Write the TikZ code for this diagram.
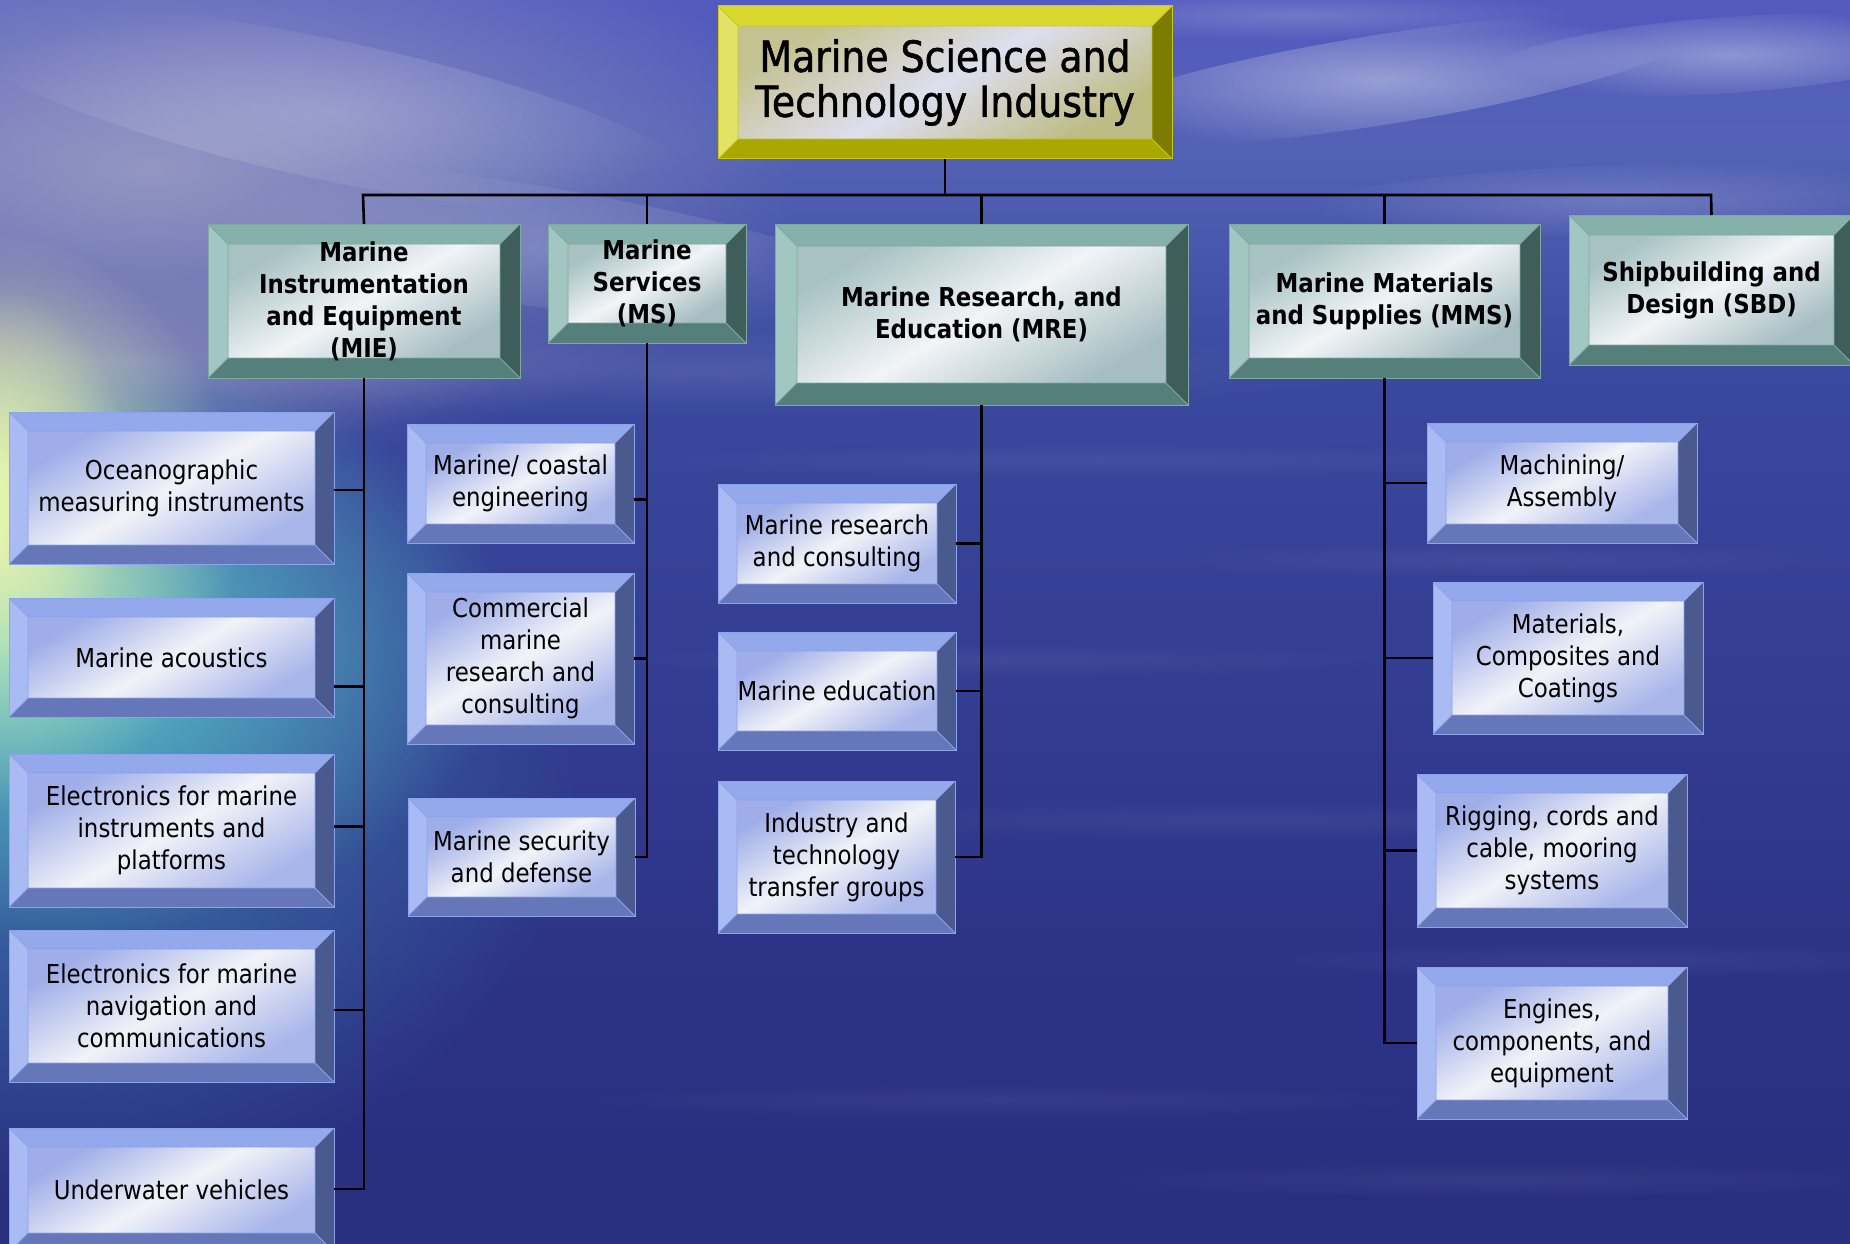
\documentclass[tikz,border=0pt]{standalone}
\usepackage{fontspec}
\setmainfont{DejaVu Sans}[FakeStretch=0.88]
\newfontfamily\topfont{DejaVu Sans}[FakeStretch=0.88, FakeBold=1.2]
\usetikzlibrary{fadings}

\tikzfading[name=softout, inner color=transparent!0, outer color=transparent!100]

\definecolor{haze}{HTML}{A4A4C6}
\definecolor{glowCyan}{HTML}{5CC6CC}
\definecolor{glowTeal}{HTML}{3F86B0}
\definecolor{glowYel}{HTML}{EAF6B0}

\pgfdeclareverticalshading{bgsh}{100bp}{%
  color(0bp)=(rgb,255:red,33;green,36;blue,104);
  color(35bp)=(rgb,255:red,44;green,50;blue,134);
  color(60bp)=(rgb,255:red,58;green,72;blue,158);
  color(69bp)=(rgb,255:red,84;green,98;blue,182);
  color(75bp)=(rgb,255:red,82;green,90;blue,190);
  color(100bp)=(rgb,255:red,76;green,84;blue,192)}

\definecolor{blTop}{HTML}{93A9EC}
\definecolor{blBot}{HTML}{6677B9}
\definecolor{blLeft}{HTML}{AABAF2}
\definecolor{blRight}{HTML}{4B5A8E}
\definecolor{blFaceA}{HTML}{9FAEE8}
\definecolor{blFaceB}{HTML}{F2F3F8}
\definecolor{blFaceC}{HTML}{A9B6EA}
\definecolor{blEdge}{HTML}{8CA3EE}

\definecolor{tlTop}{HTML}{86B0AA}
\definecolor{tlBot}{HTML}{557F7A}
\definecolor{tlLeft}{HTML}{A2C6C2}
\definecolor{tlRight}{HTML}{3E5D5B}
\definecolor{tlFaceA}{HTML}{A8C2C4}
\definecolor{tlFaceB}{HTML}{F2F4F7}
\definecolor{tlFaceC}{HTML}{A6BEC2}
\definecolor{tlEdge}{HTML}{7FAAA4}

\definecolor{ylTop}{HTML}{D8D82E}
\definecolor{ylBot}{HTML}{A9A700}
\definecolor{ylLeft}{HTML}{E2E266}
\definecolor{ylRight}{HTML}{7C7C00}
\definecolor{ylFaceA}{HTML}{C4C290}
\definecolor{ylFaceB}{HTML}{DEDEF0}
\definecolor{ylFaceC}{HTML}{BDBC84}
\definecolor{ylEdge}{HTML}{C8C820}

% bevel picture: #1 top #2 bottom #3 left #4 right #5-#7 face #8 width #9 edge
\newcommand\bevpic[9]{%
  \coordinate (bsw) at (path picture bounding box.south west);
  \coordinate (bne) at (path picture bounding box.north east);
  \coordinate (bnw) at (path picture bounding box.north west);
  \coordinate (bse) at (path picture bounding box.south east);
  \coordinate (isw) at ([shift={(#8,#8)}]bsw);
  \coordinate (ine) at ([shift={(-#8,-#8)}]bne);
  \coordinate (inw) at ([shift={(#8,-#8)}]bnw);
  \coordinate (ise) at ([shift={(-#8,#8)}]bse);
  \shade[left color=#5, right color=#7, middle color=#6, shading angle=30] (isw) rectangle (ine);
  \fill[#1] (bnw) -- (bne) -- (ine) -- (inw) -- cycle;
  \fill[#2] (bsw) -- (bse) -- (ise) -- (isw) -- cycle;
  \fill[#3] (bsw) -- (bnw) -- (inw) -- (isw) -- cycle;
  \fill[#4] (bse) -- (bne) -- (ine) -- (ise) -- cycle;
  \draw[#9, line width=0.8pt] (isw) rectangle (ine)
     (bsw) -- (isw) (bnw) -- (inw) (bne) -- (ine) (bse) -- (ise);
}

\tikzset{
  conn/.style={draw=black, line width=2.6pt},
  bx/.style={inner sep=0pt, outer sep=0pt, align=center, text=black, line width=1pt},
  bluebox/.style={bx, draw=blEdge, font=\fontsize{26}{32}\selectfont,
    path picture={\bevpic{blTop}{blBot}{blLeft}{blRight}{blFaceA}{blFaceB}{blFaceC}{19pt}{blEdge}}},
  tealbox/.style={bx, draw=tlEdge, font=\bfseries\fontsize{26}{32}\selectfont,
    path picture={\bevpic{tlTop}{tlBot}{tlLeft}{tlRight}{tlFaceA}{tlFaceB}{tlFaceC}{20pt}{tlEdge}}},
  tealboxw/.style={bx, draw=tlEdge, font=\bfseries\fontsize{26}{32}\selectfont,
    path picture={\bevpic{tlTop}{tlBot}{tlLeft}{tlRight}{tlFaceA}{tlFaceB}{tlFaceC}{22pt}{tlEdge}}},
  topbox/.style={bx, draw=ylEdge, font=\topfont\fontsize{43}{45}\selectfont,
    path picture={\bevpic{ylTop}{ylBot}{ylLeft}{ylRight}{ylFaceA}{ylFaceB}{ylFaceC}{20pt}{ylEdge}}},
  cloud/.style={fill=white, path fading=softout},
}

\newcommand\placebox[7]{%
  \pgfmathsetmacro\pbcx{(#3+#5)/2}\pgfmathsetmacro\pbcy{(#4+#6)/2}%
  \pgfmathsetmacro\pbw{#5-#3}\pgfmathsetmacro\pbh{#6-#4}%
  \node[#1, minimum width=\pbw pt, minimum height=\pbh pt] (#2) at (\pbcx,\pbcy) {#7};}

\begin{document}
\begin{tikzpicture}[x=1pt,y=-1pt]
\useasboundingbox (0,0) rectangle (1850,1244);
\clip (0,0) rectangle (1850,1244);

% ---------- background ----------
\shade[shading=bgsh] (0,0) rectangle (1850,1244);
\fill[haze, opacity=0.8, path fading=softout] (150,170) ellipse [x radius=650pt, y radius=300pt];
\fill[haze, opacity=0.5, path fading=softout] (120,360) ellipse [x radius=400pt, y radius=90pt];
\fill[glowTeal, opacity=0.8, path fading=softout] (60,780) ellipse [x radius=520pt, y radius=420pt];
\fill[glowCyan, opacity=1, path fading=softout] (30,640) ellipse [x radius=480pt, y radius=300pt];
\fill[glowYel, opacity=1, path fading=softout] (-20,520) ellipse [x radius=260pt, y radius=290pt];
\fill[glowYel, opacity=0.8, path fading=softout] (0,480) ellipse [x radius=130pt, y radius=190pt];
% clouds
\fill[cloud, opacity=0.22, rotate around={-12:(330,110)}] (330,110) ellipse [x radius=380pt, y radius=70pt];
\fill[cloud, opacity=0.18, rotate around={-10:(560,250)}] (560,250) ellipse [x radius=380pt, y radius=60pt];
\fill[cloud, opacity=0.40, rotate around={9:(1380,80)}] (1380,80) ellipse [x radius=320pt, y radius=45pt];
\fill[cloud, opacity=0.35, rotate around={4:(1730,55)}] (1730,55) ellipse [x radius=240pt, y radius=38pt];
\fill[cloud, opacity=0.18, rotate around={2:(1620,200)}] (1620,200) ellipse [x radius=320pt, y radius=35pt];
\fill[cloud, opacity=0.18] (1300,15) ellipse [x radius=280pt, y radius=25pt];
\fill[cloud, opacity=0.10] (700,370) ellipse [x radius=700pt, y radius=45pt];
% water streaks
\foreach \yy/\xx/\rr in {460/1100/500, 560/1500/380, 660/1000/420, 820/1250/500, 960/1600/350, 1100/1000/450, 1180/1500/420}
  \fill[cloud, opacity=0.06] (\xx,\yy) ellipse [x radius=\rr pt, y radius=18pt];

% ---------- boxes ----------
\placebox{topbox}{top}{718}{6}{1172}{159}{Marine Science and\\Technology Industry}

\placebox{tealbox}{mie}{208}{224}{520}{378}{Marine\\Instrumentation\\and Equipment\\(MIE)}
\placebox{tealbox}{ms}{548}{224}{746}{343}{Marine\\Services\\(MS)}
\placebox{tealboxw}{mre}{775}{224}{1188}{405}{Marine Research, and\\Education (MRE)}
\placebox{tealbox}{mms}{1229}{224}{1540}{378}{Marine Materials\\and Supplies (MMS)}
\placebox{tealbox}{sbd}{1569}{215}{1854}{365}{Shipbuilding and\\Design (SBD)}

\placebox{bluebox}{ocean}{9}{412}{334}{564}{Oceanographic\\measuring instruments}
\placebox{bluebox}{acou}{9}{598}{334}{717}{Marine acoustics}
\placebox{bluebox}{elinst}{9}{754}{334}{907}{Electronics for marine\\instruments and\\platforms}
\placebox{bluebox}{elnav}{9}{930}{334}{1082}{Electronics for marine\\navigation and\\communications}
\placebox{bluebox}{uv}{9}{1128}{334}{1252}{Underwater vehicles}

\placebox{bluebox}{coast}{407}{424}{634}{543}{Marine/ coastal\\engineering}
\placebox{bluebox}{comm}{407}{573}{634}{744}{Commercial\\marine\\research and\\consulting}
\placebox{bluebox}{secu}{408}{798}{635}{916}{Marine security\\and defense}

\placebox{bluebox}{mrc}{718}{484}{956}{603}{Marine research\\and consulting}
\placebox{bluebox}{edu}{718}{632}{956}{750}{Marine education}
\placebox{bluebox}{ind}{718}{781}{955}{933}{Industry and\\technology\\transfer groups}

\placebox{bluebox}{mach}{1427}{423}{1697}{543}{Machining/\\Assembly}
\placebox{bluebox}{mat}{1433}{582}{1703}{734}{Materials,\\Composites and\\Coatings}
\placebox{bluebox}{rig}{1417}{774}{1687}{927}{Rigging, cords and\\cable, mooring\\systems}
\placebox{bluebox}{eng}{1417}{967}{1687}{1119}{Engines,\\components, and\\equipment}

% ---------- connectors ----------
\coordinate (busL) at (363,195);
\coordinate (busR) at (1711,195);
\draw[conn] (top.south) -- (top.south |- busL);
\draw[conn] (mie.north) -- (busL) -- (busR) -- (sbd.north);
\draw[conn] (ms.north) -- (ms.north |- busL);
\draw[conn] (mre.north) -- (mre.north |- busL);
\draw[conn] (mms.north) -- (mms.north |- busL);

% MIE children
\draw[conn] (mie.south) |- ([yshift=1pt]uv.east);
\draw[conn] ([yshift=-2pt]ocean.east) -- ([yshift=-2pt]ocean.east -| mie.south);
\draw[conn] ([yshift=-29pt]acou.east) -- ([yshift=-29pt]acou.east -| mie.south);
\draw[conn] ([yshift=4pt]elinst.east) -- ([yshift=4pt]elinst.east -| mie.south);
\draw[conn] ([yshift=-4pt]elnav.east) -- ([yshift=-4pt]elnav.east -| mie.south);

% MS children
\draw[conn] (ms.south) |- (secu.east);
\draw[conn] ([yshift=-16pt]coast.east) -- ([yshift=-16pt]coast.east -| ms.south);
\draw[conn] (comm.east) -- (comm.east -| ms.south);

% MRE children
\draw[conn] (mre.south) |- (ind.east);
\draw[conn] (mrc.east) -- (mrc.east -| mre.south);
\draw[conn] (edu.east) -- (edu.east -| mre.south);

% MMS children
\draw[conn] (mms.south) |- (eng.west);
\draw[conn] (mach.west) -- (mach.west -| mms.south);
\draw[conn] (mat.west) -- (mat.west -| mms.south);
\draw[conn] (rig.west) -- (rig.west -| mms.south);
\end{tikzpicture}
\end{document}
